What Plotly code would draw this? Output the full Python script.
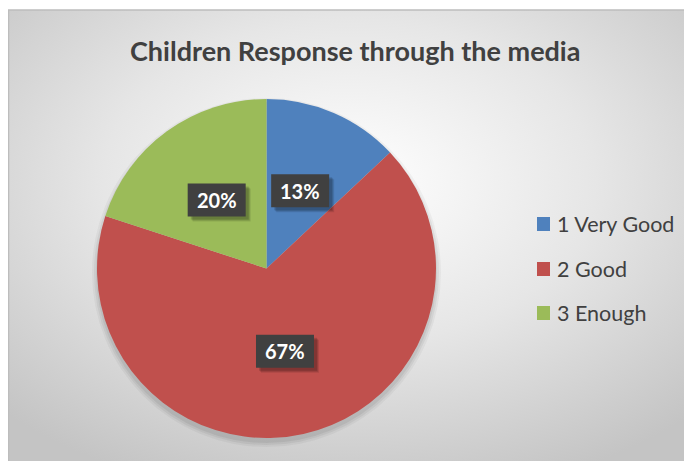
import math, base64
import plotly.graph_objects as go

categories = ["1 Very Good", "2 Good", "3 Enough"]
values = [13, 67, 20]
colors = ["#4f81bd", "#c0504d", "#9bbb59"]
title_text = "Children Response through the media"

# page body has an 8px margin; the figure starts at (8, 8) in the screenshot
OFF = 8
W, H = 692 - OFF, 461 - OFF
FONT = "Lato"

px = lambda x: (x - OFF) / W
py = lambda y: 1 - (y - OFF) / H

BG_TOP = 10
bw, bh = W, H - (BG_TOP - OFF)
svg = f'''<svg xmlns="http://www.w3.org/2000/svg" width="{bw}" height="{bh}" viewBox="0 0 {bw} {bh}" preserveAspectRatio="none">
<defs><radialGradient id="g" cx="50%" cy="38%" r="72%">
<stop offset="0%" stop-color="#ffffff"/><stop offset="50%" stop-color="#e6e6e6"/><stop offset="100%" stop-color="#c4c4c4"/>
</radialGradient></defs><rect width="100%" height="100%" fill="url(#g)"/></svg>'''
src = "data:image/svg+xml;base64," + base64.b64encode(svg.encode()).decode()

cx, cy, R = 266.5, 268.5, 169.5
dom_x = [px(cx - R), px(cx + R)]
dom_y = [py(cy + R), py(cy - R)]

fig = go.Figure(go.Pie(
    labels=categories, values=values, sort=False, direction="clockwise", rotation=0,
    marker=dict(colors=colors, line=dict(width=0)), textinfo="none", hoverinfo="label+percent",
    domain=dict(x=dom_x, y=dom_y), showlegend=False,
))

shapes = [dict(type="line", xref="paper", yref="paper", x0=px(8), x1=1, y0=py(BG_TOP), y1=py(BG_TOP),
               line=dict(color="#bdbdbd", width=1.5)),
          dict(type="line", xref="paper", yref="paper", x0=px(8.5), x1=px(8.5), y0=0, y1=py(BG_TOP),
               line=dict(color="#bdbdbd", width=1.5))]
# soft shadow under the pie
for i, a in enumerate([0.04, 0.05, 0.06]):
    rr = R + 5 - i * 2
    shapes.append(dict(type="circle", xref="paper", yref="paper", x0=px(cx - rr), x1=px(cx + rr),
                       y0=py(cy + 4 + rr), y1=py(cy + 4 - rr), fillcolor=f"rgba(0,0,0,{a})",
                       line=dict(width=0), layer="below"))

annotations = []
total = sum(values)
cum = 0
BW, BH = 58, 33
for v in values:
    mid = (cum + v / 2) / total * 2 * math.pi
    cum += v
    lx = cx + 0.5 * R * math.sin(mid)
    ly = cy - 0.5 * R * math.cos(mid)
    pct = f"{round(v / total * 100)}%"
    for d, a in [(5, 0.10), (4, 0.12), (3, 0.14)]:
        shapes.append(dict(type="rect", xref="paper", yref="paper", x0=px(lx - BW / 2 + d), x1=px(lx + BW / 2 + d),
                           y0=py(ly + BH / 2 + d), y1=py(ly - BH / 2 + d), fillcolor=f"rgba(0,0,0,{a})",
                           line=dict(width=0)))
    shapes.append(dict(type="rect", xref="paper", yref="paper", x0=px(lx - BW / 2), x1=px(lx + BW / 2),
                       y0=py(ly + BH / 2), y1=py(ly - BH / 2), fillcolor="#404040", line=dict(width=0)))
    annotations.append(dict(x=px(lx), y=py(ly), xref="paper", yref="paper", text=f"<b>{pct}</b>",
                            xanchor="center", yanchor="middle",
                            showarrow=False, font=dict(family=FONT, size=20, color="white")))

leg_y = [224, 269, 313]
for name, col, y in zip(categories, colors, leg_y):
    shapes.append(dict(type="rect", xref="paper", yref="paper", x0=px(537), x1=px(550),
                       y0=py(y + 7), y1=py(y - 7), fillcolor=col, line=dict(width=0)))
    annotations.append(dict(x=px(555), y=py(y), xref="paper", yref="paper", text=name, xanchor="left",
                            yanchor="middle", showarrow=False, font=dict(family=FONT, size=21.5, color="#404040")))

annotations.append(dict(x=px(355), y=py(50), xref="paper", yref="paper", text=f"<b>{title_text}</b>",
                        xanchor="center", yanchor="middle",
                        showarrow=False, font=dict(family=FONT, size=27, color="#404040")))

fig.update_layout(
    width=W, height=H, margin=dict(l=0, r=0, t=0, b=0), paper_bgcolor="white",
    images=[dict(source=src, xref="paper", yref="paper", x=px(8), y=py(BG_TOP), sizex=1 - px(8), sizey=py(BG_TOP),
                 xanchor="left", yanchor="top", sizing="stretch", layer="below")],
    shapes=shapes, annotations=annotations, showlegend=False,
)
fig.write_html("out.html")
